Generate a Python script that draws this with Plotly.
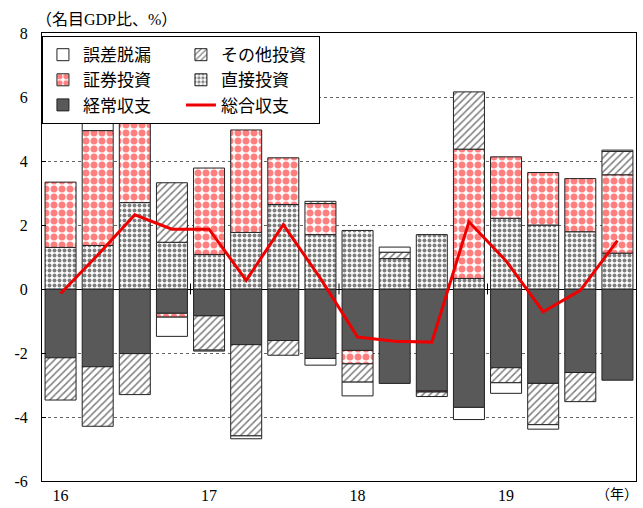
import plotly.graph_objects as go

quarters = ["16Q1", "16Q2", "16Q3", "16Q4", "17Q1", "17Q2", "17Q3", "17Q4",
            "18Q1", "18Q2", "18Q3", "18Q4", "19Q1", "19Q2", "19Q3", "19Q4"]
year_labels = ["16", "17", "18", "19"]

current_account = [-2.15, -2.43, -2.02, -0.76, -0.84, -1.74, -1.61, -2.17,
                   -1.92, -2.95, -3.19, -3.70, -2.46, -2.95, -2.61, -2.85]
direct_inv = [1.30, 1.36, 2.70, 1.46, 1.08, 1.77, 2.64, 1.70,
              1.83, 0.95, 1.70, 0.33, 2.21, 2.00, 1.79, 1.12]
securities_inv = [2.04, 3.59, 2.67, -0.12, 2.70, 3.20, 1.46, 0.97,
                  -0.42, None, -0.03, 4.04, 1.92, 1.64, 1.66, 2.45]
other_inv = [-1.32, -1.86, -1.28, 1.86, -1.07, -2.85, -0.46, 0.07,
             -0.57, 0.20, -0.14, 1.79, -0.47, -1.29, -0.91, 0.73]
errors = [None, 0.28, 0.25, -0.60, -0.03, -0.09, None, -0.21,
          -0.43, 0.16, None, -0.38, -0.33, -0.14, None, 0.04]
overall_balance = [-0.14, 1.06, 2.32, 1.87, 1.87, 0.27, 2.01, 0.33,
                   -1.50, -1.63, -1.66, 2.10, 0.88, -0.71, -0.04, 1.51]

y_ticks = [8, 6, 4, 2, 0, -2, -4, -6]
y_ticktext = ["8", "6", "4", "2", "0", "-2", "-4", "-6"]

x = list(range(len(quarters)))
BW = 0.835
EDGE = dict(color="#222222", width=1)
FONT = "Times New Roman, Liberation Serif, Noto Sans CJK JP, serif"

fig = go.Figure()

fig.add_trace(go.Bar(
    x=x, y=current_account, name="経常収支", width=BW, legendrank=5,
    marker=dict(color="#595959", line=EDGE)))
fig.add_trace(go.Bar(
    x=x, y=direct_inv, name="直接投資", width=BW, legendrank=4,
    marker=dict(color="white", line=EDGE,
                pattern=dict(shape=".", fgcolor="black", bgcolor="white",
                             size=5, solidity=0.5))))
fig.add_trace(go.Bar(
    x=x, y=securities_inv, name="証券投資", width=BW, legendrank=3,
    marker=dict(color="white", line=EDGE,
                pattern=dict(shape=".", fgcolor="#ff0000", bgcolor="white",
                             size=8, solidity=0.6))))
fig.add_trace(go.Bar(
    x=x, y=other_inv, name="その他投資", width=BW, legendrank=2,
    marker=dict(color="white", line=EDGE,
                pattern=dict(shape="/", fgcolor="black", bgcolor="white",
                             size=5, solidity=0.3))))
fig.add_trace(go.Bar(
    x=x, y=errors, name="誤差脱漏", width=BW, legendrank=1,
    marker=dict(color="white", line=EDGE)))
fig.add_trace(go.Scatter(
    x=x, y=overall_balance, name="総合収支", mode="lines", legendrank=6,
    line=dict(color="#ee0000", width=3)))

# year-boundary tick marks on the zero line
for i in range(4, len(quarters), 4):
    fig.add_shape(type="line", xref="x", yref="y", x0=i - 0.5, x1=i - 0.5,
                  y0=-0.17, y1=0.17, line=dict(color="black", width=1))

fig.update_layout(
    width=643, height=508,
    barmode="relative",
    bargap=0.165,
    plot_bgcolor="white", paper_bgcolor="white",
    margin=dict(l=42, r=7, t=33, b=27, autoexpand=False),
    font=dict(family=FONT, size=16, color="black"),
    showlegend=True,
    legend=dict(
        orientation="h", x=-0.0001, xanchor="left", y=0.993, yanchor="top",
        bgcolor="white", bordercolor="black", borderwidth=1,
        font=dict(family=FONT, size=17), entrywidth=93, itemwidth=30,
        tracegroupgap=0, traceorder="normal"),
    annotations=[
        dict(text="（名目GDP比、%）", xref="paper", yref="paper", x=0, y=1,
             xanchor="left", yanchor="bottom", yshift=3, xshift=-8,
             showarrow=False, font=dict(family=FONT, size=16)),
        dict(text="（年）", xref="paper", yref="paper", x=1, y=0,
             xanchor="right", yanchor="top", yshift=-4, xshift=4,
             showarrow=False, font=dict(family=FONT, size=14)),
    ],
)

fig.update_xaxes(
    range=[-0.5, len(quarters) - 0.5],
    tickvals=[i for i in range(0, len(quarters), 4)],
    ticktext=year_labels,
    ticks="", showgrid=False, zeroline=False,
    showline=True, mirror=True, linecolor="black", linewidth=1,
    tickfont=dict(family=FONT, size=16),
)
fig.update_yaxes(
    range=[-6, 8], tickvals=y_ticks, ticktext=y_ticktext,
    ticks="inside", ticklen=4, tickcolor="black",
    showgrid=True, gridcolor="#666666", griddash="dot", gridwidth=1,
    zeroline=True, zerolinecolor="black", zerolinewidth=1,
    showline=True, mirror=True, linecolor="black", linewidth=1,
    ticklabelstandoff=10,
    tickfont=dict(family=FONT, size=16),
)

fig.write_html("out.html", config={"displayModeBar": False},
               post_script="document.body.style.margin='0';document.body.style.overflow='hidden';")
